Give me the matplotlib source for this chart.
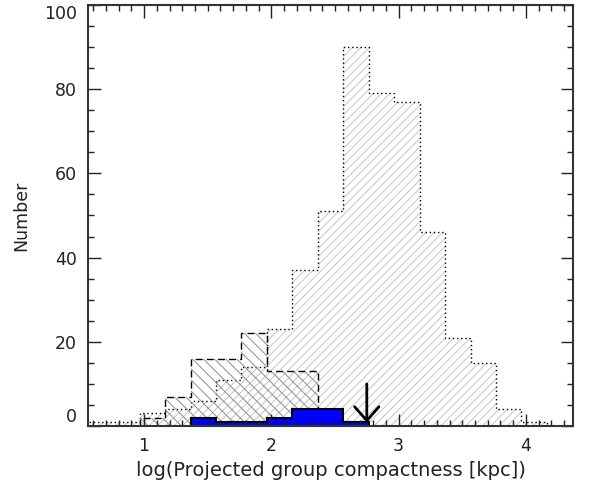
import matplotlib
matplotlib.use('Agg')
import matplotlib.pyplot as plt
from matplotlib.ticker import MultipleLocator
import numpy as np

# Data (histogram counts, bin width 0.2 dex)
bin_width = 0.2
all_start = 0.565
all_counts = [1, 1, 3, 4, 6, 11, 14, 23, 37, 51, 90, 79, 77, 46, 21, 15, 4, 1]

sub_start = 0.965
sub_counts = [2, 7, 16, 16, 22, 13, 13]

blue_start = 1.365
blue_counts = [2, 1, 1, 2, 4, 4, 1]

arrow_x = 2.75
arrow_top = 10
arrow_tip = 0.8


def edges(start, counts):
    return start + bin_width * np.arange(len(counts) + 1)


plt.rcParams['hatch.linewidth'] = 0.7
plt.rcParams['font.family'] = 'DejaVu Sans'

fig = plt.figure(figsize=(5.95, 4.87), dpi=100)
ax = fig.add_axes([0.148, 0.125, 0.815, 0.865])

# big sample: light grey "/" hatch, dotted outline
ax.stairs(all_counts, edges(all_start, all_counts), fill=True, facecolor='none',
          edgecolor='#c4c4c4', hatch='////', linewidth=0)
ax.stairs(all_counts, edges(all_start, all_counts), baseline=0, color='black',
          linestyle=(0, (1, 2)), linewidth=1.0)

# second sample: grey "\" hatch, dashed outline
ax.stairs(sub_counts, edges(sub_start, sub_counts), fill=True, facecolor='none',
          edgecolor='#8c8c8c', hatch='\\\\\\', linewidth=0)
ax.stairs(sub_counts, edges(sub_start, sub_counts), baseline=0, color='black',
          linestyle=(0, (5, 3)), linewidth=1.0)

# blue sample
ax.stairs(blue_counts, edges(blue_start, blue_counts), fill=True,
          facecolor='#0000ff', edgecolor='none')
ax.stairs(blue_counts, edges(blue_start, blue_counts), baseline=0, color='black',
          linewidth=1.5)

ax.annotate('', xy=(arrow_x, arrow_tip), xytext=(arrow_x, arrow_top),
            arrowprops=dict(arrowstyle='->,head_length=0.4,head_width=0.35',
                            lw=2, color='black', mutation_scale=25,
                            shrinkA=0, shrinkB=0))

ax.set_xlim(0.56, 4.37)
ax.set_ylim(0, 100)
ax.xaxis.set_major_locator(MultipleLocator(1))
ax.xaxis.set_minor_locator(MultipleLocator(0.1))
ax.yaxis.set_major_locator(MultipleLocator(20))
ax.yaxis.set_minor_locator(MultipleLocator(5))
ax.tick_params(which='both', direction='in', top=True, right=True,
               width=1, color='#222222', labelsize=12.5, labelcolor='#222222')
ax.tick_params(which='major', length=9, pad=8)
ax.tick_params(which='minor', length=4.5)
for s in ax.spines.values():
    s.set_linewidth(1.5)
    s.set_color('#333333')

# keep the end labels inside the frame, as in the original
fig.canvas.draw()
ylabels = ax.get_yticklabels()
for lab in ylabels:
    if lab.get_text() == '100':
        lab.set_verticalalignment('top')
    elif lab.get_text() == '0':
        lab.set_verticalalignment('bottom')

ax.set_xlabel('log(Projected group compactness [kpc])', fontsize=14, color='#222222')
ax.set_ylabel('Number', fontsize=12.5, color='#222222', labelpad=10)

fig.savefig('out.png', dpi=100)
